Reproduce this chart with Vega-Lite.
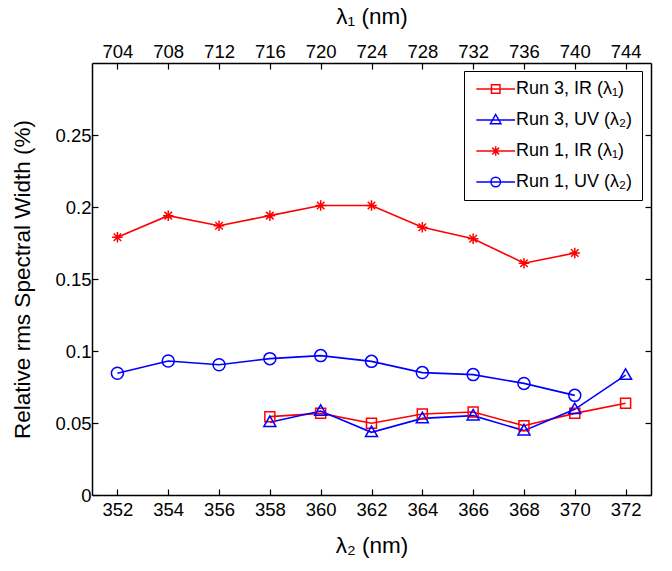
{
  "$schema": "https://vega.github.io/schema/vega-lite/v6.json",
  "width": 559,
  "height": 432,
  "autosize": "none",
  "padding": {"left": 92, "top": 63, "right": 21, "bottom": 76},
  "background": "white",
  "config": {
    "font": "Liberation Sans",
    "view": {"stroke": null},
    "axis": {
      "domainColor": "black",
      "domainWidth": 1.5,
      "tickColor": "black",
      "tickWidth": 1.2,
      "tickSize": -6,
      "labelFont": "Liberation Sans",
      "labelFontSize": 18.5,
      "labelColor": "black",
      "titleFont": "Liberation Sans",
      "titleFontSize": 22.5,
      "titleFontWeight": "normal",
      "titleColor": "black",
      "grid": false,
      "labelFlush": false,
      "labelOverlap": false
    }
  },
  "data": {
    "values": [
      {"series": "Run 3, IR (λ₁)", "l2": 358, "v": 0.0544},
      {"series": "Run 3, IR (λ₁)", "l2": 360, "v": 0.0567},
      {"series": "Run 3, IR (λ₁)", "l2": 362, "v": 0.0498},
      {"series": "Run 3, IR (λ₁)", "l2": 364, "v": 0.0562},
      {"series": "Run 3, IR (λ₁)", "l2": 366, "v": 0.0576},
      {"series": "Run 3, IR (λ₁)", "l2": 368, "v": 0.0481},
      {"series": "Run 3, IR (λ₁)", "l2": 370, "v": 0.0567},
      {"series": "Run 3, IR (λ₁)", "l2": 372, "v": 0.0637},
      {"series": "Run 3, UV (λ₂)", "l2": 358, "v": 0.0505},
      {"series": "Run 3, UV (λ₂)", "l2": 360, "v": 0.0583},
      {"series": "Run 3, UV (λ₂)", "l2": 362, "v": 0.0435},
      {"series": "Run 3, UV (λ₂)", "l2": 364, "v": 0.0532},
      {"series": "Run 3, UV (λ₂)", "l2": 366, "v": 0.0551},
      {"series": "Run 3, UV (λ₂)", "l2": 368, "v": 0.0447},
      {"series": "Run 3, UV (λ₂)", "l2": 370, "v": 0.0595},
      {"series": "Run 3, UV (λ₂)", "l2": 372, "v": 0.0833},
      {"series": "Run 1, IR (λ₁)", "l2": 352, "v": 0.179},
      {"series": "Run 1, IR (λ₁)", "l2": 354, "v": 0.194},
      {"series": "Run 1, IR (λ₁)", "l2": 356, "v": 0.187},
      {"series": "Run 1, IR (λ₁)", "l2": 358, "v": 0.194},
      {"series": "Run 1, IR (λ₁)", "l2": 360, "v": 0.201},
      {"series": "Run 1, IR (λ₁)", "l2": 362, "v": 0.201},
      {"series": "Run 1, IR (λ₁)", "l2": 364, "v": 0.186},
      {"series": "Run 1, IR (λ₁)", "l2": 366, "v": 0.178},
      {"series": "Run 1, IR (λ₁)", "l2": 368, "v": 0.161},
      {"series": "Run 1, IR (λ₁)", "l2": 370, "v": 0.168},
      {"series": "Run 1, UV (λ₂)", "l2": 352, "v": 0.0845},
      {"series": "Run 1, UV (λ₂)", "l2": 354, "v": 0.0931},
      {"series": "Run 1, UV (λ₂)", "l2": 356, "v": 0.0905},
      {"series": "Run 1, UV (λ₂)", "l2": 358, "v": 0.0947},
      {"series": "Run 1, UV (λ₂)", "l2": 360, "v": 0.0968},
      {"series": "Run 1, UV (λ₂)", "l2": 362, "v": 0.0928},
      {"series": "Run 1, UV (λ₂)", "l2": 364, "v": 0.085},
      {"series": "Run 1, UV (λ₂)", "l2": 366, "v": 0.0836},
      {"series": "Run 1, UV (λ₂)", "l2": 368, "v": 0.0775},
      {"series": "Run 1, UV (λ₂)", "l2": 370, "v": 0.0692}
    ]
  },
  "layer": [
    {
      "mark": {"type": "line", "strokeWidth": 1.6},
      "encoding": {
        "x": {
          "field": "l2", "type": "quantitative",
          "scale": {"domain": [351, 373], "nice": false, "zero": false},
          "axis": {"orient": "bottom", "values": [352, 354, 356, 358, 360, 362, 364, 366, 368, 370, 372], "format": "d", "labelPadding": 11, "title": "λ₂ (nm)", "titlePadding": 16}
        },
        "y": {
          "field": "v", "type": "quantitative",
          "scale": {"domain": [0, 0.3], "nice": false},
          "axis": {"orient": "left", "values": [0, 0.05, 0.1, 0.15, 0.2, 0.25], "format": "~g", "labelPadding": 7, "title": "Relative rms Spectral Width (%)", "titlePadding": 20}
        },
        "stroke": {
          "field": "series", "type": "nominal",
          "scale": {"domain": ["Run 1, UV (λ₂)", "Run 1, IR (λ₁)", "Run 3, UV (λ₂)", "Run 3, IR (λ₁)"], "range": ["#0000ff", "#ff0000", "#0000ff", "#ff0000"]},
          "legend": null
        }
      }
    },
    {
      "mark": {"type": "point", "filled": false, "strokeWidth": 1.5, "size": 100, "opacity": 0},
      "encoding": {
        "x": {"field": "l2", "type": "quantitative", "axis": null},
        "y": {"field": "v", "type": "quantitative", "axis": null},
        "color": {
          "field": "series", "type": "nominal",
          "scale": {"domain": ["Run 3, IR (λ₁)", "Run 3, UV (λ₂)", "Run 1, IR (λ₁)", "Run 1, UV (λ₂)"], "range": ["#ff0000", "#0000ff", "#ff0000", "#0000ff"]},
          "legend": {
            "orient": "none", "legendX": 372, "legendY": 8, "title": null,
            "padding": 9, "strokeColor": "black", "fillColor": "white",
            "symbolSize": 100, "symbolOffset": 0, "labelOffset": 25, "rowPadding": 13, "symbolOpacity": 1,
            "symbolStrokeWidth": 1.5, "labelFont": "Liberation Sans", "labelFontSize": 18, "labelColor": "black", "labelLimit": 400
          }
        },
        "shape": {
          "field": "series", "type": "nominal",
          "scale": {
            "domain": ["Run 3, IR (λ₁)", "Run 3, UV (λ₂)", "Run 1, IR (λ₁)", "Run 1, UV (λ₂)"],
            "range": [
              "M-1.13,0H6.61M1.89,-0.85H3.59V0.85H1.89Z",
              "M-1.13,0H6.61M2.74,-1.1L3.79,0.75H1.69Z",
              "M-1.13,0H6.61M2.74,-0.95V0.95M2.06,-0.68L3.42,0.68M2.06,0.68L3.42,-0.68",
              "M-1.13,0H6.61M3.69,0A0.95,0.95,0,1,1,1.79,0A0.95,0.95,0,1,1,3.69,0Z"
            ]
          },
          "legend": {
            "orient": "none", "legendX": 372, "legendY": 8, "title": null,
            "padding": 9, "strokeColor": "black", "fillColor": "white",
            "symbolSize": 100, "symbolOffset": 0, "labelOffset": 25, "rowPadding": 13, "symbolOpacity": 1,
            "symbolStrokeWidth": 1.5, "labelFont": "Liberation Sans", "labelFontSize": 18, "labelColor": "black", "labelLimit": 400
          }
        }
      }
    },
    {
      "mark": {"type": "point", "filled": false, "strokeWidth": 1.5, "size": 100, "opacity": 1},
      "encoding": {
        "x": {
          "field": "l2", "type": "quantitative",
          "axis": {"orient": "top", "values": [352, 354, 356, 358, 360, 362, 364, 366, 368, 370, 372], "labelExpr": "format(datum.value * 2, 'd')", "labelPadding": 8, "title": "λ₁ (nm)", "titlePadding": 14}
        },
        "y": {
          "field": "v", "type": "quantitative",
          "axis": {"orient": "right", "values": [0, 0.05, 0.1, 0.15, 0.2, 0.25], "labels": false, "title": null}
        },
        "stroke": {"field": "series", "type": "nominal", "legend": null},
        "shape": {
          "field": "series", "type": "nominal",
          "scale": {
            "domain": ["Run 1, UV (λ₂)", "Run 1, IR (λ₁)", "Run 3, UV (λ₂)", "Run 3, IR (λ₁)"],
            "range": [
              "M1.2,0A1.2,1.2,0,1,1,-1.2,0A1.2,1.2,0,1,1,1.2,0Z",
              "M0,-1.05V1.05M-1.05,0H1.05M-0.75,-0.75L0.75,0.75M-0.75,0.75L0.75,-0.75",
              "M0,-1.25L1.2,0.85H-1.2Z",
              "M-1,-1H1V1H-1Z"
            ]
          },
          "legend": null
        }
      }
    }
  ],
  "resolve": {
    "axis": {"x": "independent", "y": "independent"},
    "scale": {"shape": "independent", "color": "independent"}
  }
}
